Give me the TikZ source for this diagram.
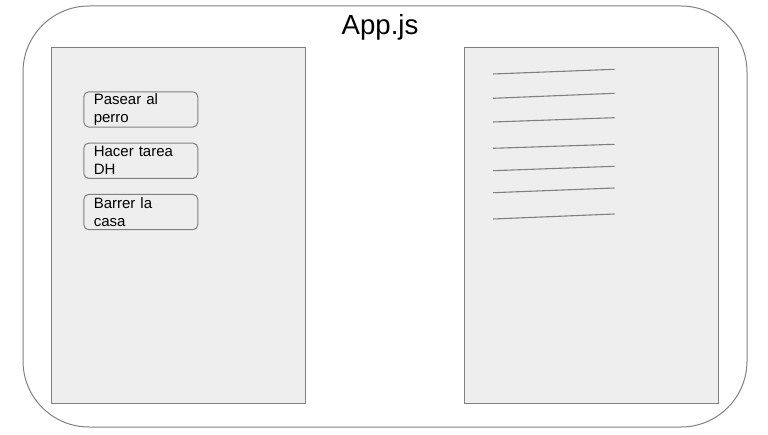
\documentclass[tikz,border=0pt]{standalone}
\usepackage{fontspec}
\setmainfont{Liberation Sans}
\usetikzlibrary{positioning}
\definecolor{edgegray}{HTML}{808080}
\definecolor{panelfill}{HTML}{EEEEEE}
\tikzset{%
   panel/.style={draw=edgegray, fill=panelfill, line width=1pt, minimum width=254pt, minimum height=356pt, anchor=north west, inner sep=0pt},
   task/.style={draw=edgegray, fill=panelfill, line width=1pt, rounded corners=5pt, minimum width=114pt, minimum height=35.3pt,
     anchor=north west, text width=94pt, inner xsep=10pt, inner ysep=0pt, align=left, font={\fontsize{15}{18}\selectfont}},
   stroke/.style={draw=edgegray, line width=1.1pt},
}
\begin{document}
\begin{tikzpicture}[x=1pt, y=-1pt]
   \useasboundingbox (0,0) rectangle (768,435);
   \draw[edgegray, line width=1pt, rounded corners=66pt] (23,6) rectangle (747,427);
   \node[anchor=base, font={\fontsize{27.6}{32}\selectfont}] (app) at (380,35) {App.js};
   \node[panel] (todo) at (51,47) {};
   \node[panel] (list) at (463.5,47) {};
   \node[task] (t1) at (83.3,91.3) {Pasear al\\perro};
   \node[task, below=15pt of t1.south west, anchor=north west] (t2) {Hacer tarea\\DH};
   \node[task, below=15pt of t2.south west, anchor=north west] (t3) {Barrer la\\casa};
   % lines of the list
   \foreach \ya/\yb [count=\i] in {74/69.3, 98.3/93.3, 122/117.7, 148.3/144.3, 170.7/166.3, 192.7/188, 219/214}
      \draw[stroke] (493,\ya) coordinate (s\i) -- (614.5,\yb) coordinate (e\i);
\end{tikzpicture}
\end{document}
